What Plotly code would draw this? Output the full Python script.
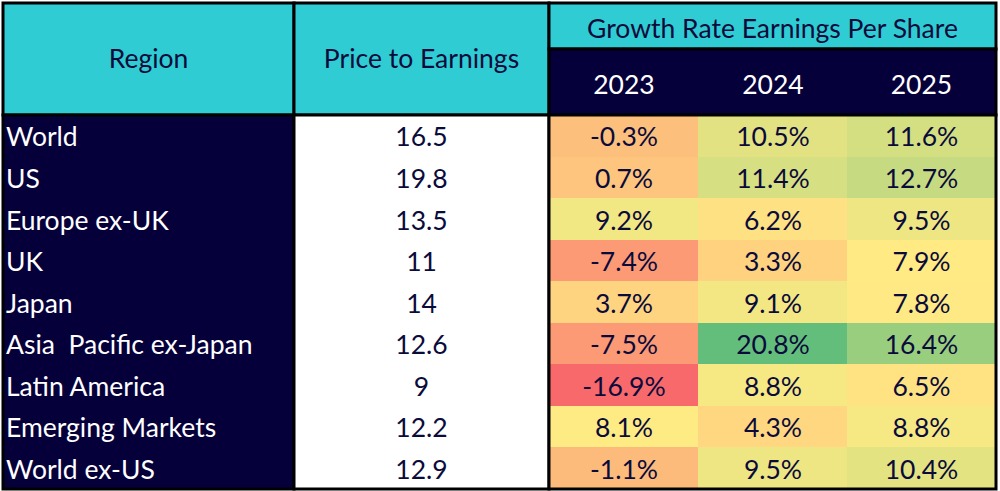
"""Valuation and EPS growth table by region"""

# %% Imports
import numpy as np
import plotly.graph_objects as go

# %% Data
regions = ["World", "US", "Europe ex-UK", "UK", "Japan",
           "Asia  Pacific ex-Japan", "Latin America", "Emerging Markets",
           "World ex-US"]
pe_ratio = [16.5, 19.8, 13.5, 11, 14, 12.6, 9, 12.2, 12.9]
years = ["2023", "2024", "2025"]
growth_2023 = [-0.3, 0.7, 9.2, -7.4, 3.7, -7.5, -16.9, 8.1, -1.1]
growth_2024 = [10.5, 11.4, 6.2, 3.3, 9.1, 20.8, 8.8, 4.3, 9.5]
growth_2025 = [11.6, 12.7, 9.5, 7.9, 7.8, 16.4, 6.5, 8.8, 10.4]
header_region = "Region"
header_pe = "Price to Earnings"
header_growth = "Growth Rate Earnings Per Share"

# %% Layout grid (pixel-like units, y downwards)
W, H = 1000, 491
col_edges = [3, 294, 549, 699, 847, 996]
head_top, head_mid, head_bot, bottom = 3, 49, 115, 489
row_h = (bottom - head_bot) / len(regions)
row_edges = [head_bot + i * row_h for i in range(len(regions) + 1)]
# text baseline nudge: plotly centres the full line box, glyphs sit high
dy = 4
row_mid = [(a + b) / 2 + dy for a, b in zip(row_edges[:-1], row_edges[1:])]

TEAL = "#30CCD3"
NAVY = "#06003A"
INK = "#0B0B3B"
FONT = "Lato"
FS = 26.5

growth = np.array([growth_2023, growth_2024, growth_2025]).T
zmin, zmax = growth.min(), growth.max()
mid = (np.median(growth) - zmin) / (zmax - zmin)

fig = go.Figure()

# %% background blocks
def rect(x0, x1, y0, y1, fill, width=3):
    fig.add_shape(type="rect", x0=x0, x1=x1, y0=y0, y1=y1,
                  xref="x", yref="y", fillcolor=fill,
                  line=dict(color="black", width=width), layer="below")

rect(col_edges[0], col_edges[1], head_top, head_bot, TEAL)
rect(col_edges[1], col_edges[2], head_top, head_bot, TEAL)
rect(col_edges[2], col_edges[5], head_top, head_mid, TEAL)
rect(col_edges[2], col_edges[5], head_mid, head_bot, NAVY)
rect(col_edges[0], col_edges[1], head_bot, bottom, NAVY)
rect(col_edges[1], col_edges[2], head_bot, bottom, "white")

# %% heatmap of growth rates
fig.add_trace(go.Heatmap(
    z=growth, x=col_edges[2:], y=row_edges,
    zmin=zmin, zmax=zmax,
    colorscale=[[0, "#F8696B"], [mid, "#FFEB84"], [1, "#63BE7B"]],
    showscale=False, hoverinfo="skip", xgap=0, ygap=0))

# frame around growth block
fig.add_shape(type="rect", x0=col_edges[2], x1=col_edges[5], y0=head_bot,
              y1=bottom, xref="x", yref="y",
              line=dict(color="black", width=3), layer="above")

# %% texts
font_dark = dict(family=FONT, size=FS, color=INK)
font_light = dict(family=FONT, size=FS, color="white")

fig.add_trace(go.Scatter(
    x=[(col_edges[0] + col_edges[1]) / 2, (col_edges[1] + col_edges[2]) / 2,
       (col_edges[2] + col_edges[5]) / 2],
    y=[(head_top + head_bot) / 2 + 2, (head_top + head_bot) / 2 + 2,
       (head_top + head_mid) / 2 + dy + 1],
    text=[header_region, header_pe, header_growth],
    mode="text", textfont=font_dark, hoverinfo="skip"))

year_x = [(a + b) / 2 for a, b in zip(col_edges[2:5], col_edges[3:6])]
fig.add_trace(go.Scatter(
    x=year_x, y=[(head_mid + head_bot) / 2 + dy + 1] * 3, text=years,
    mode="text", textfont=font_light, hoverinfo="skip"))

fig.add_trace(go.Scatter(
    x=[col_edges[0] + 3] * len(regions), y=row_mid, text=regions,
    mode="text", textposition="middle right", textfont=font_light,
    hoverinfo="skip"))

fig.add_trace(go.Scatter(
    x=[(col_edges[1] + col_edges[2]) / 2] * len(regions), y=row_mid,
    text=[f"{v:g}" for v in pe_ratio],
    mode="text", textfont=font_dark, hoverinfo="skip"))

for j, yr in enumerate(years):
    fig.add_trace(go.Scatter(
        x=[year_x[j]] * len(regions), y=row_mid,
        text=[f"{v:.1f}%" for v in growth[:, j]],
        mode="text", textfont=font_dark, hoverinfo="skip"))

# %% layout
fig.update_layout(
    width=W, height=H, margin=dict(l=0, r=0, t=0, b=0),
    plot_bgcolor="white", paper_bgcolor="white", showlegend=False,
    hovermode=False,
    xaxis=dict(range=[0, W], visible=False, fixedrange=True),
    yaxis=dict(range=[H, 0], visible=False, fixedrange=True),
)

# drop the default 8px page margin so the table fills the window
fig.write_html("out.html", config={"displayModeBar": False},
               post_script="document.body.style.margin='0';")
